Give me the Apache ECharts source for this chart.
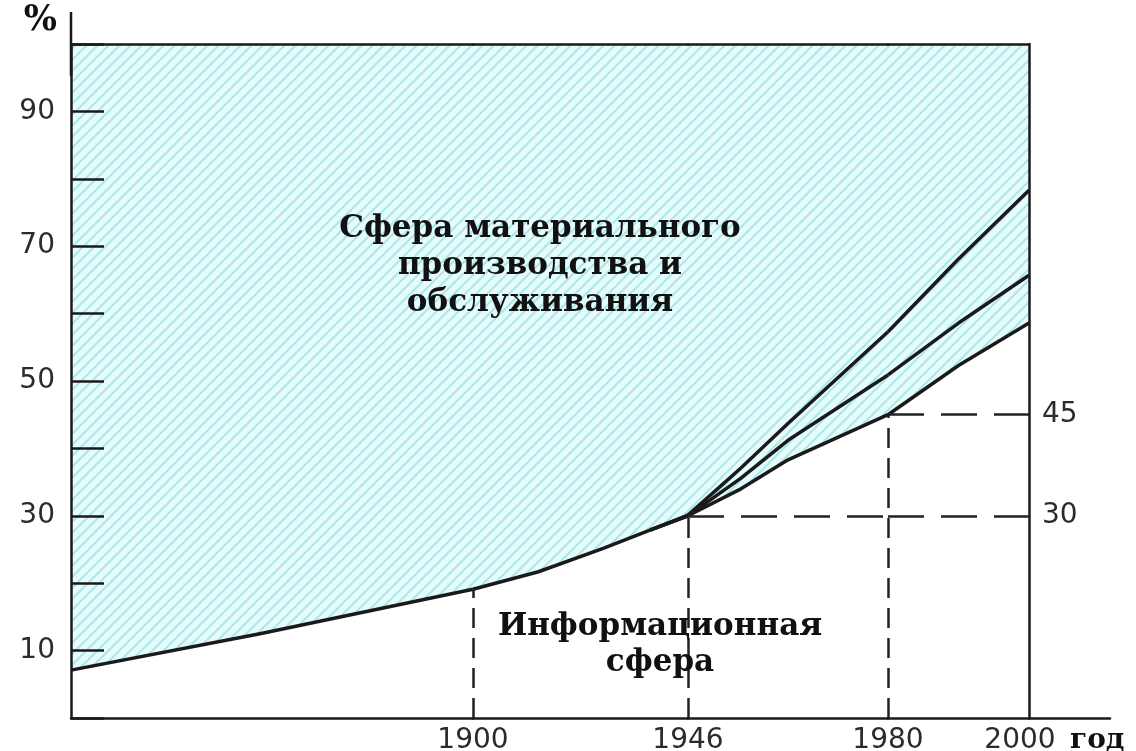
<!DOCTYPE html>
<html>
<head>
<meta charset="utf-8">
<script src="https://cdn.jsdelivr.net/npm/echarts@6/dist/echarts.min.js"></script>
<style>html,body{margin:0;padding:0;background:#fff}#c{width:1136px;height:751px}</style>
</head>
<body>
<div id="c"></div>
<script>
// ---- data ----
const yLabelValues = [10, 30, 50, 70, 90];
const xTickYears = [1900, 1946, 1980, 2000];
const startYear = 1800;
const lowerYears = [1800, 1847, 1900, 1914, 1928, 1938, 1946, 1955, 1963, 1980, 1990, 2000];
const lowerValues = [7.1, 12.5, 19.1, 21.7, 25.2, 27.9, 30, 34, 38.3, 45, 52.3, 58.6];
const upperYears = [1938, 1946, 1955, 1963, 1980, 1990, 2000];
const middleValues = [27.9, 30, 35.6, 41.2, 50.9, 58.6, 65.7];
const topValues = [27.9, 30.1, 37.1, 43.7, 57.3, 68.1, 78.3];
const refYears = [1900, 1946, 1980];
const refValues = [19.1, 30, 45];
const rightLevels = [30, 45];
const textUpper = 'Сфера материального\nпроизводства и\nобслуживания';
const textLower = 'Информационная\nсфера';

// ---- layout ----
const GRID_TOP = 44, GRID_H = 674;
const segLeft = [71, 473, 688, 888];
const segWidth = [402, 215, 200, 141];
const EXT_LEFT = 1029, EXT_WIDTH = 81;
const INK = '#1a1a1a';
const numFont = 'DejaVu Sans';
const serif = 'DejaVu Serif';

const bounds = [];
[startYear].concat(xTickYears).forEach((y, i, a) => { if (i > 0) bounds.push([a[i - 1], y]); });

// hatch pattern
const S = 11;
const pc = document.createElement('canvas'); pc.width = S; pc.height = S;
const g = pc.getContext('2d');
g.fillStyle = '#e6fbfb'; g.fillRect(0, 0, S, S);
g.strokeStyle = '#ace7e7'; g.lineWidth = 2;
[0, S, 2 * S].forEach(c => { g.beginPath(); g.moveTo(c + 1, -1); g.lineTo(c - S - 1, S + 1); g.stroke(); });
const hatch = { image: pc, repeat: 'repeat' };

function pairs(years, vals, from, to) {
  const out = [];
  years.forEach((y, k) => { if (y >= from && y <= to) out.push([y, vals[k]]); });
  return out;
}

function makeGrid(left, width) {
  return { left: left, width: width, top: GRID_TOP, height: GRID_H, containLabel: false, outerBoundsMode: 'none' };
}

const grids = [], xAxes = [], xTopAxes = [], yAxes = [], series = [];
bounds.forEach(([from, to], i) => {
  grids.push(makeGrid(segLeft[i], segWidth[i]));
  const labs = xTickYears.filter(t => t > from && t <= to);
  const isLast = i === bounds.length - 1;
  xAxes.push({
    gridIndex: i, type: 'value', min: from, max: to, position: 'bottom', z: 10,
    axisLine: { show: true, onZero: false, lineStyle: { color: INK, width: 2.5 } },
    axisTick: { show: false }, splitLine: { show: false },
    axisLabel: { show: labs.length > 0, customValues: labs, margin: 9,
      formatter: v => String(v),
      color: '#2b2b2b', fontFamily: numFont, fontSize: 28,
      padding: isLast ? [0, 18, 0, 0] : 0 },
    name: isLast ? 'год' : '', nameLocation: 'end', nameGap: 41,
    nameTextStyle: { fontFamily: serif, fontWeight: 'bold', fontSize: 28, color: '#111',
      verticalAlign: 'top', align: 'left', padding: [9, 0, 0, 0] }
  });
  xTopAxes.push({
    gridIndex: i, type: 'value', min: from, max: to, position: 'top', z: 10,
    axisLine: { show: true, onZero: false, lineStyle: { color: INK, width: 2.5 } },
    axisTick: { show: false }, axisLabel: { show: false }, splitLine: { show: false }
  });
  if (i === 0) {
    yAxes.push({
      gridIndex: 0, type: 'value', min: 0, max: 100, interval: 10, position: 'left', z: 10,
      axisLine: { show: true, lineStyle: { color: INK, width: 2.5 }, symbol: ['none', 'rect'], symbolSize: [2.5, 64] },
      axisTick: { show: true, inside: true, length: 33, lineStyle: { color: INK, width: 2.5 } },
      splitLine: { show: false },
      axisLabel: { margin: 16, color: '#2b2b2b', fontFamily: numFont, fontSize: 28,
        formatter: v => yLabelValues.indexOf(v) >= 0 ? String(v) : '' },
      name: '%', nameLocation: 'end', nameGap: 6,
      nameTextStyle: { fontFamily: serif, fontWeight: 'bold', fontSize: 35, color: '#111',
        align: 'right', verticalAlign: 'bottom', padding: [0, 14, 0, 0] }
    });
  } else {
    yAxes.push({ gridIndex: i, type: 'value', min: 0, max: 100, show: false, splitLine: { show: false } });
  }
});
// right border on last grid
yAxes.push({
  gridIndex: bounds.length - 1, type: 'value', min: 0, max: 100, position: 'right', z: 10,
  axisLine: { show: true, lineStyle: { color: INK, width: 2.5 } },
  axisTick: { show: false }, axisLabel: { show: false }, splitLine: { show: false }
});
// extension of the time axis beyond 2000
const extIdx = bounds.length;
grids.push(makeGrid(EXT_LEFT, EXT_WIDTH));
xAxes.push({ gridIndex: extIdx, type: 'value', min: 0, max: 1, position: 'bottom', z: 10,
  axisLine: { show: true, onZero: false, lineStyle: { color: INK, width: 2.5 } },
  axisTick: { show: false }, axisLabel: { show: false }, splitLine: { show: false } });
yAxes.push({ gridIndex: extIdx, type: 'value', min: 0, max: 100, show: false, splitLine: { show: false } });

bounds.forEach(([from, to], i) => {
  const ml = [];
  refYears.forEach((yr, k) => {
    if (yr === from) {
      ml.push([{ coord: [yr, 0], lineStyle: { type: [20, 10] } }, { coord: [yr, refValues[k]] }]);
    }
  });
  rightLevels.forEach(L => {
    const start = refYears[refValues.indexOf(L)];
    if (from >= start) {
      const item = [{ coord: [from, L], lineStyle: { type: [36, 17] } }, { coord: [to, L] }];
      if (to === xTickYears[xTickYears.length - 1]) {
        item[0].label = { show: true, position: 'end', formatter: String(L), distance: 13,
          color: '#2b2b2b', fontFamily: numFont, fontSize: 28 };
      }
      ml.push(item);
    }
  });
  series.push({
    type: 'line', name: 'lower', xAxisIndex: i, yAxisIndex: i, clip: false,
    data: pairs(lowerYears, lowerValues, from, to), symbol: 'none', smooth: false,
    lineStyle: { color: INK, width: 3.5, join: 'round' },
    areaStyle: { color: hatch, origin: 'end', opacity: 1 },
    z: 3,
    markLine: { silent: true, symbol: ['none', 'none'], animation: false,
      lineStyle: { color: '#222', width: 2.5 }, label: { show: false }, data: ml }
  });
  [middleValues, topValues].forEach(vals => {
    const d = pairs(upperYears, vals, from, to);
    if (d.length >= 2) {
      series.push({ type: 'line', xAxisIndex: i, yAxisIndex: i, data: d, symbol: 'none', smooth: false,
        lineStyle: { color: INK, width: 3.5, join: 'round' }, z: 4 });
    }
  });
});

const chart = echarts.init(document.getElementById('c'));
chart.setOption({
  backgroundColor: '#fff',
  animation: false,
  grid: grids,
  xAxis: xAxes.concat(xTopAxes),
  yAxis: yAxes,
  series: series,
  graphic: [
    { type: 'text', z: 100, style: { text: textUpper, x: 540, y: 266, align: 'center', verticalAlign: 'middle',
      font: 'bold 31px "DejaVu Serif"', lineHeight: 37, fill: '#111' } },
    { type: 'text', z: 100, style: { text: textLower, x: 660, y: 645, align: 'center', verticalAlign: 'middle',
      font: 'bold 31px "DejaVu Serif"', lineHeight: 36, fill: '#111' } }
  ]
});
</script>
</body>
</html>
